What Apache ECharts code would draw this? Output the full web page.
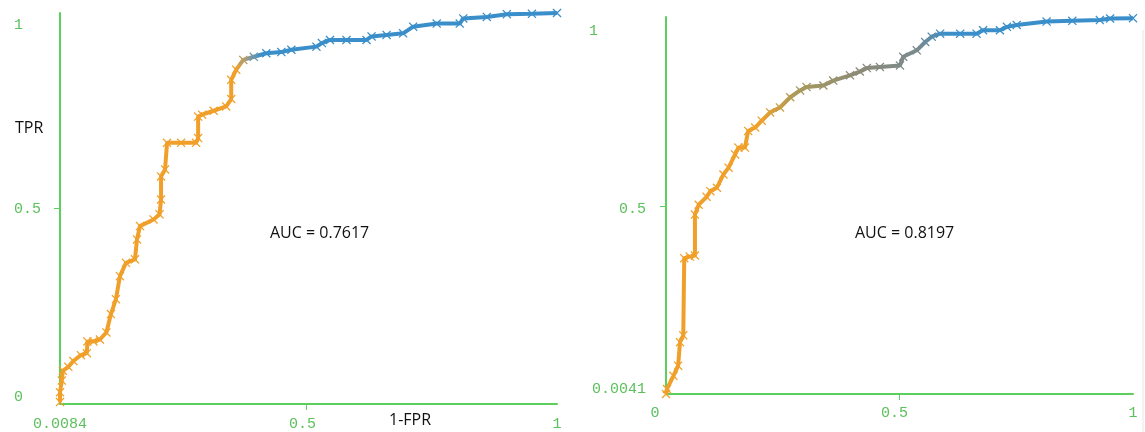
<!DOCTYPE html>
<html>
<head>
<meta charset="utf-8">
<script src="https://cdn.jsdelivr.net/npm/echarts@6/dist/echarts.min.js"></script>
<style>html,body{margin:0;padding:0;background:#fff}#c{width:1145px;height:432px}</style>
</head>
<body>
<div id="c"></div>
<script>
// ---- data ----
const leftFPR = [0.0084,0.0084,0.012,0.014,0.025,0.035,0.05,0.062,0.063,0.075,0.088,0.101,0.11,0.12,0.128,0.14,0.158,0.162,0.168,0.195,0.207,0.21,0.21,0.218,0.222,0.25,0.28,0.284,0.284,0.292,0.315,0.34,0.35,0.35,0.36,0.374,0.395,0.42,0.45,0.47,0.52,0.531,0.547,0.58,0.62,0.63,0.66,0.693,0.713,0.76,0.806,0.813,0.86,0.9,0.95,1.0];
const leftTPR = [0.005,0.03,0.06,0.085,0.095,0.11,0.125,0.13,0.16,0.16,0.165,0.183,0.23,0.268,0.327,0.361,0.37,0.421,0.455,0.472,0.485,0.523,0.582,0.6,0.668,0.668,0.668,0.68,0.735,0.74,0.75,0.761,0.78,0.829,0.855,0.88,0.888,0.897,0.9,0.906,0.914,0.923,0.931,0.931,0.931,0.94,0.944,0.948,0.965,0.973,0.973,0.986,0.99,0.997,0.998,1.0];
const rightFPR = [0.0,0.002,0.016,0.026,0.03,0.037,0.039,0.051,0.062,0.062,0.07,0.087,0.095,0.109,0.123,0.134,0.148,0.155,0.169,0.176,0.191,0.205,0.223,0.244,0.266,0.287,0.301,0.337,0.358,0.394,0.415,0.43,0.458,0.501,0.508,0.537,0.555,0.569,0.587,0.63,0.665,0.679,0.715,0.73,0.751,0.815,0.87,0.929,0.951,1.0];
const rightTPR = [0.0041,0.017,0.052,0.079,0.141,0.159,0.363,0.367,0.37,0.478,0.504,0.525,0.54,0.549,0.584,0.602,0.637,0.655,0.655,0.699,0.708,0.726,0.748,0.761,0.788,0.806,0.815,0.819,0.832,0.846,0.856,0.865,0.868,0.872,0.895,0.912,0.934,0.948,0.956,0.956,0.956,0.965,0.965,0.974,0.979,0.988,0.99,0.992,0.996,0.997];
const leftXTicks = [0.0084, 0.5, 1];
const leftYTicks = [0, 0.5, 1];
const rightXTicks = [0, 0.5, 1];
const rightYTicks = [0.0041, 0.5, 1];
const leftAUC = 'AUC = 0.7617';
const rightAUC = 'AUC = 0.8197';
const xName = '1-FPR';
const yName = 'TPR';

// ---- styling helpers ----
function hex2rgb(h){return [parseInt(h.slice(1,3),16),parseInt(h.slice(3,5),16),parseInt(h.slice(5,7),16)];}
function ramp(stops){
  const out=[];
  for(let i=0;i<=100;i++){
    const t=i/100;
    let k=0; while(k<stops.length-2 && t>stops[k+1][0]) k++;
    const [t0,c0]=stops[k],[t1,c1]=stops[k+1];
    const f=t1===t0?0:Math.min(1,Math.max(0,(t-t0)/(t1-t0)));
    const a=hex2rgb(c0),b=hex2rgb(c1);
    out.push('rgb('+a.map((v,j)=>Math.round(v+(b[j]-v)*f)).join(',')+')');
  }
  return out;
}
const ORANGE='#f0a02a', BLUE='#3a8fca';
const leftColors = ramp([[0,ORANGE],[0.36,ORANGE],[0.385,'#8c9a98'],[0.41,BLUE],[1,BLUE]]);
const rightColors = ramp([[0,ORANGE],[0.2,ORANGE],[0.28,'#a89a5c'],[0.42,'#8a8a78'],[0.54,'#7a8a8e'],[0.6,BLUE],[1,BLUE]]);

const GREEN_AXIS='#5ccf5c', GREEN_LABEL='#5cc05c';
const MONO='"Liberation Mono","DejaVu Sans Mono",monospace';
const SANS='"Open Sans","Noto Sans",sans-serif';
const XMARK='path://M1,0L5,4L9,0L10,1L6,5L10,9L9,10L5,6L1,10L0,9L4,5L0,1Z';

function zip(a,b){return a.map((v,i)=>[v,b[i]]);}
const lblBase={color:GREEN_LABEL,fontFamily:MONO,fontSize:15};

function axisCommon(){
  return {
    type:'value', splitLine:{show:false},
    axisLine:{show:true,onZero:false,lineStyle:{color:GREEN_AXIS,width:2}},
    axisTick:{show:true,customValues:[0.5],length:6,lineStyle:{color:GREEN_AXIS,width:1}},
  };
}

const option = {
  backgroundColor:'#fff',
  animation:false,
  grid:[
    {left:60, top:13, width:497, height:392},
    {left:666, top:17, width:467, height:377}
  ],
  xAxis:[
    Object.assign(axisCommon(),{gridIndex:0,min:0.0084,max:1,
      axisLabel:{customValues:leftXTicks,margin:13,...lblBase,
        formatter:v=>v===0.5?'{m|0.5}':String(v),
        rich:{m:{...lblBase,padding:[0,8,0,0]}}}}),
    Object.assign(axisCommon(),{gridIndex:1,min:0,max:1,
      axisLabel:{customValues:rightXTicks,margin:12,...lblBase,
        formatter:v=>v===0?'{z|0}':v===0.5?'{m|0.5}':String(v),
        rich:{z:{...lblBase,padding:[0,22,0,0]},m:{...lblBase,padding:[0,10,0,0]}}}})
  ],
  yAxis:[
    Object.assign(axisCommon(),{gridIndex:0,min:0,max:1,
      axisLabel:{customValues:leftYTicks,margin:46,align:'left',...lblBase,
        formatter:v=>v===1?'{t|1}':v===0?'{b|0}':'{m|0.5}',
        rich:{t:{...lblBase,padding:[24,0,0,0]},b:{...lblBase,padding:[0,0,14,0]},m:{...lblBase,padding:[2,0,0,0]}}}}),
    Object.assign(axisCommon(),{gridIndex:1,min:0.0041,max:1,
      axisLabel:{customValues:rightYTicks,margin:20,align:'right',...lblBase,
        formatter:v=>v===1?'{t|1}':v===0.5?'{m|0.5}':'{b|0.0041}',
        rich:{t:{...lblBase,padding:[28,48,0,0]},b:{...lblBase,padding:[0,0,10,0]},m:{...lblBase,padding:[6,0,0,0]}}}})
  ],
  visualMap:[
    {type:'continuous',show:false,seriesIndex:0,dimension:0,min:0,max:1,inRange:{color:leftColors}},
    {type:'continuous',show:false,seriesIndex:1,dimension:0,min:0,max:1,inRange:{color:rightColors}}
  ],
  series:[
    {type:'line',xAxisIndex:0,yAxisIndex:0,data:zip(leftFPR,leftTPR),clip:false,
      symbol:XMARK,symbolSize:9,showAllSymbol:true,lineStyle:{width:4}},
    {type:'line',xAxisIndex:1,yAxisIndex:1,data:zip(rightFPR,rightTPR),clip:false,
      symbol:XMARK,symbolSize:9,showAllSymbol:true,lineStyle:{width:4}}
  ],
  graphic:[
    {type:'text',left:15,top:120,style:{text:yName,fill:'#111',font:'500 16px '+SANS}},
    {type:'text',left:389,top:412,style:{text:xName,fill:'#111',font:'500 16px '+SANS}},
    {type:'text',left:270,top:225,style:{text:leftAUC,fill:'#111',font:'500 16px '+SANS}},
    {type:'text',left:855,top:225,style:{text:rightAUC,fill:'#111',font:'500 16px '+SANS}},
    {type:'line',shape:{x1:1143,y1:30,x2:1143,y2:432},style:{stroke:'#e6e6e6',lineWidth:1}}
  ]
};
const chart = echarts.init(document.getElementById('c'));
chart.setOption(option);
</script>
</body>
</html>
